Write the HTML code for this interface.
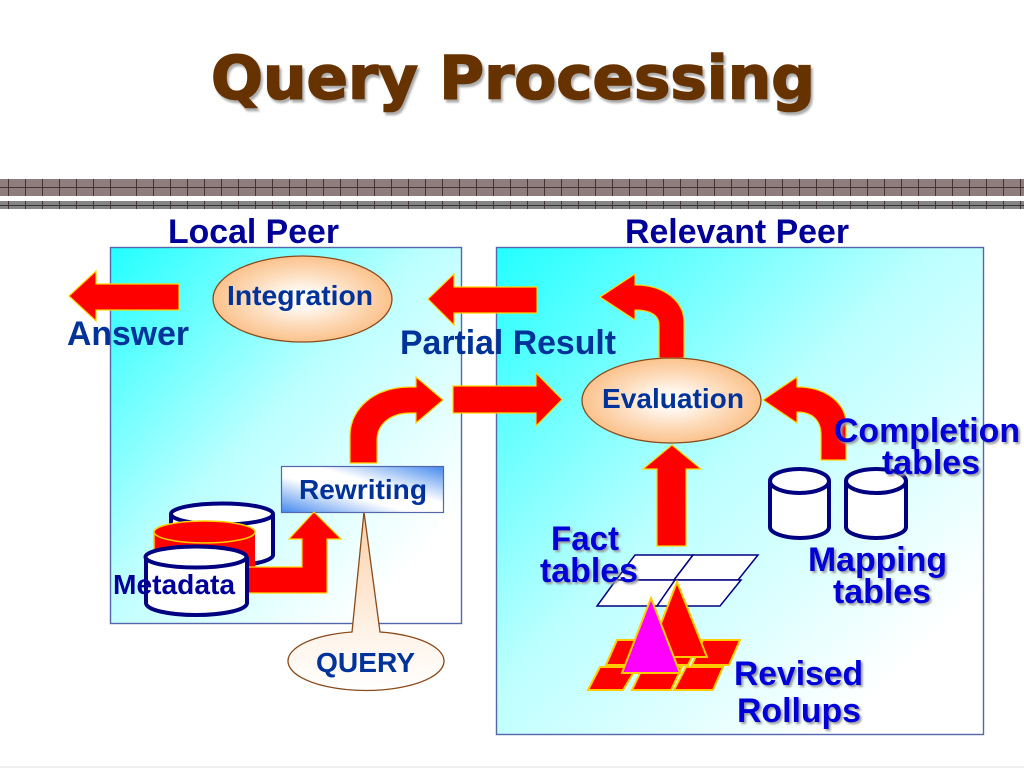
<!DOCTYPE html>
<html>
<head>
<meta charset="utf-8">
<title>Query Processing</title>
<style>
html,body{margin:0;padding:0;background:#fff;width:1024px;height:768px;overflow:hidden}
svg{display:block}
text{font-family:"Liberation Sans",Arial,sans-serif;font-weight:bold}
.t{font-family:"DejaVu Sans",Verdana,sans-serif;font-size:60px;fill:#663300;stroke:#663300;stroke-width:1.6;filter:drop-shadow(2px 3px 1px #aaa)}
.h{font-size:34px;fill:#000099}
.b{font-size:34px;fill:#003399}
.n{font-size:28px;fill:#003399}
.s{font-size:34px;fill:#0000d8;filter:drop-shadow(2px 2px 1px #999)}
.a{fill:#ff0000;stroke:#ffd400;stroke-width:1.2}
.r{fill:#ff0000;stroke:#ffcc00;stroke-width:2}
.c{fill:#fff;stroke:#000080;stroke-width:4}
</style>
</head>
<body>
<svg width="1024" height="768" viewBox="0 0 1024 768" xmlns="http://www.w3.org/2000/svg">
<defs>
<linearGradient id="p" x1="0" y1="0" x2="1" y2="1">
<stop offset="0" stop-color="#22ffff"/><stop offset=".45" stop-color="#bbffff"/><stop offset=".85" stop-color="#ffffff"/>
</linearGradient>
<linearGradient id="r" x1="0" y1="1" x2="1" y2="0">
<stop offset="0" stop-color="#4488ee"/><stop offset=".4" stop-color="#ffffff"/><stop offset=".6" stop-color="#ffffff"/><stop offset="1" stop-color="#4488ee"/>
</linearGradient>
<radialGradient id="e">
<stop offset="0" stop-color="#ffffff"/><stop offset=".25" stop-color="#fff6ec"/><stop offset=".6" stop-color="#fddcbc"/><stop offset="1" stop-color="#fbc28c"/>
</radialGradient>
<linearGradient id="q" gradientUnits="userSpaceOnUse" x1="0" y1="512" x2="0" y2="691">
<stop offset="0" stop-color="#fbcfa6"/><stop offset=".7" stop-color="#fff4ea"/><stop offset="1" stop-color="#ffffff"/>
</linearGradient>
<pattern id="v1" x="8" y="0" width="17" height="40" patternUnits="userSpaceOnUse"><rect width="1" height="40" fill="#443434"/></pattern>
<pattern id="v2" x="136" y="0" width="17" height="40" patternUnits="userSpaceOnUse"><rect width="1" height="40" fill="#443434"/></pattern>
</defs>

<text class="t" x="211" y="98.500" textLength="604" lengthAdjust="spacingAndGlyphs">Query Processing</text>

<rect x="0" y="179" width="1024" height="17" fill="#8f7c7c"/>
<rect x="0" y="187" width="1024" height="1" fill="#443434"/>
<rect x="0" y="179" width="120" height="17" fill="url(#v1)"/>
<rect x="120" y="179" width="904" height="17" fill="url(#v2)"/>
<rect x="0" y="201" width="1024" height="8" fill="#858585"/>
<rect x="0" y="205" width="1024" height="1" fill="#333"/>
<rect x="0" y="201" width="120" height="8" fill="url(#v1)"/>
<rect x="120" y="201" width="904" height="8" fill="url(#v2)"/>

<rect x="110.500" y="247.500" width="351" height="376" fill="url(#p)" stroke="#5566aa" stroke-width="1.4"/>
<rect x="496.500" y="247.500" width="487" height="487" fill="url(#p)" stroke="#5566aa" stroke-width="1.4"/>

<text class="h" x="168" y="243" textLength="171" lengthAdjust="spacingAndGlyphs">Local Peer</text>
<text class="h" x="625" y="243" textLength="224" lengthAdjust="spacingAndGlyphs">Relevant Peer</text>

<!-- straight arrows -->
<path class="a" d="M69 296L96 271V284H179V310H96V321Z"/>
<path class="a" d="M428 299L454 274V287H537V313H454V325Z"/>
<path class="a" d="M562 399.500L536 373V386H453V413H536V426Z"/>
<path class="a" d="M672 445L701 469H686V546H657V469H643Z"/>

<!-- curved arrows -->
<path class="a" d="M600 297L635 274V285C665 285 684 302 684 322V358H659V325C659 315 650 310 635 310V320Z"/>
<path class="a" d="M763 400L797 377V387C827 387 846 404 846 424V460H821V435C821 420 812 412 797 412V423Z"/>
<path class="a" d="M443 400L416 377V387H410C375 387 350 408 350 436V463H377V440C377 423 392 413 410 413H416V423Z"/>

<!-- ellipses -->
<ellipse cx="302.500" cy="299" rx="89.500" ry="43" fill="url(#e)" stroke="#8a4a1a" stroke-width="1.3"/>
<ellipse cx="671.500" cy="400.500" rx="89.500" ry="42.500" fill="url(#e)" stroke="#8a4a1a" stroke-width="1.3"/>
<text class="n" x="227" y="305" textLength="146" lengthAdjust="spacingAndGlyphs">Integration</text>
<text class="n" x="602" y="408" textLength="142" lengthAdjust="spacingAndGlyphs">Evaluation</text>

<text class="b" x="67" y="345" textLength="122" lengthAdjust="spacingAndGlyphs">Answer</text>
<text class="b" x="400" y="354" textLength="216" lengthAdjust="spacingAndGlyphs">Partial Result</text>

<!-- callout -->
<path d="M364 512L352 632A78 29.500 0 1 0 380 632Z" fill="url(#q)" stroke="#8a4a1a" stroke-width="1.3"/>
<text class="n" x="316" y="672" textLength="99" lengthAdjust="spacingAndGlyphs">QUERY</text>

<!-- rewriting -->
<rect x="281.500" y="466.500" width="162" height="46" fill="url(#r)" stroke="#5566aa" stroke-width="1.2"/>
<text class="n" x="299" y="499" textLength="128" lengthAdjust="spacingAndGlyphs">Rewriting</text>

<!-- left cylinders -->
<path class="c" d="M171 514V555C171 561 194 566 222 566S273 561 273 555V514"/>
<ellipse class="c" cx="222" cy="514" rx="51" ry="10.500"/>
<path d="M154 532V572H255V532Z" fill="#ff0000"/>
<path d="M154 532V560" fill="none" stroke="#ffcc00" stroke-width="1.5"/>
<ellipse cx="204.500" cy="532" rx="50.500" ry="11" fill="#ff0000" stroke="#ffcc00" stroke-width="1.5"/>
<path class="a" d="M314 512L341 539H327V593H247V567H302V539H289Z"/>
<path class="c" d="M146 557V603C146 610 169 615 196 615S247 610 247 603V557"/>
<ellipse class="c" cx="196" cy="557" rx="50.500" ry="10.500"/>
<text x="113" y="594" font-size="28" fill="#000099" textLength="122" lengthAdjust="spacingAndGlyphs">Metadata</text>

<!-- right cylinders -->
<path class="c" d="M770 481V527C770 533 784 538 800 538S829 533 829 527V481"/>
<ellipse class="c" cx="799.500" cy="481" rx="29.500" ry="12"/>
<path class="c" d="M846 481V527C846 533 860 538 876 538S906 533 906 527V481"/>
<ellipse class="c" cx="876" cy="481" rx="30" ry="12"/>

<!-- fact tables -->
<g fill="#fff" stroke="#000080" stroke-width="1.500">
<path d="M635 555H693L674 580H616Z"/>
<path d="M693 555H758L738 580H674Z"/>
<path d="M616 580H675L657 606H597Z"/>
<path d="M675 580H741L720 606H657Z"/>
</g>

<!-- revised rollups -->
<path class="r" d="M617 640H660L648 665H606Z"/>
<path class="r" d="M660 640H700L688 665H648Z"/>
<path class="r" d="M703 640H740L729 665H692Z"/>
<path class="r" d="M600 667H637L623 690H588Z"/>
<path class="r" d="M643 667H682L671 690H632Z"/>
<path class="r" d="M686 667H723L713 690H674Z"/>
<path class="r" d="M677 582L707 657H648Z"/>
<path d="M651 598L680 673H622Z" fill="#ff00ff" stroke="#ffcc00" stroke-width="2"/>

<!-- shadow labels -->
<text class="s" x="834" y="442" textLength="186" lengthAdjust="spacingAndGlyphs">Completion</text>
<text class="s" x="882" y="474" textLength="98" lengthAdjust="spacingAndGlyphs">tables</text>
<text class="s" x="808" y="571" textLength="139" lengthAdjust="spacingAndGlyphs">Mapping</text>
<text class="s" x="833" y="603" textLength="98" lengthAdjust="spacingAndGlyphs">tables</text>
<text class="s" x="551" y="550" textLength="68" lengthAdjust="spacingAndGlyphs">Fact</text>
<text class="s" x="540" y="582" textLength="98" lengthAdjust="spacingAndGlyphs">tables</text>
<text class="s" x="734" y="685" textLength="129" lengthAdjust="spacingAndGlyphs">Revised</text>
<text class="s" x="737" y="722" textLength="124" lengthAdjust="spacingAndGlyphs">Rollups</text>

<rect x="0" y="766" width="1024" height="2" fill="#f0f0f0"/>
</svg>
</body>
</html>
